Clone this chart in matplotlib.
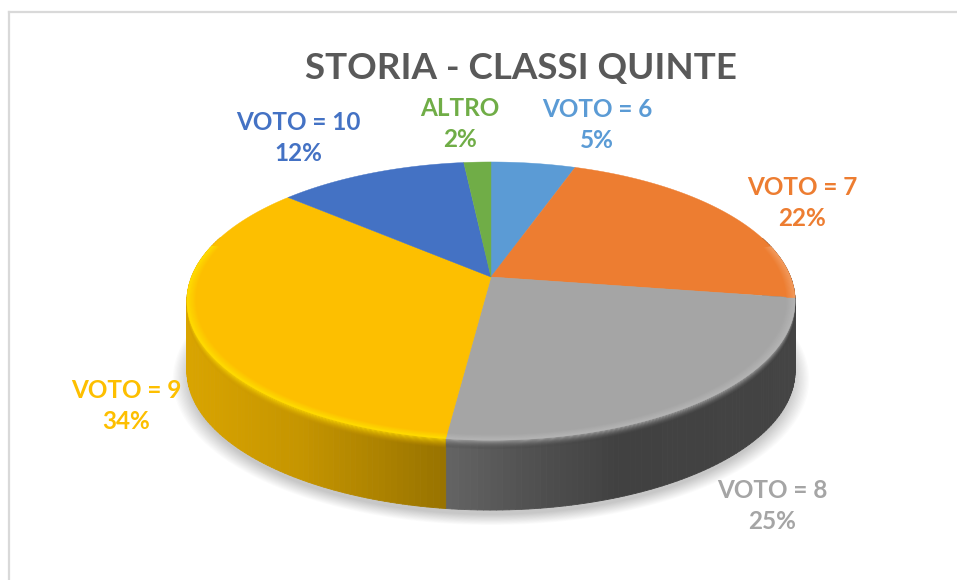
import numpy as np
import matplotlib
matplotlib.use("Agg")
import matplotlib.pyplot as plt
from matplotlib.collections import PolyCollection

# data
labels = ["VOTO = 6", "VOTO = 7", "VOTO = 8", "VOTO = 9", "VOTO = 10", "ALTRO"]
values = [5.3, 22.1, 24.6, 34.4, 11.9, 1.7]
colors = ["#5b9bd5", "#ed7d31", "#a5a5a5", "#fdbf00", "#4472c4", "#70ad47"]
title = "STORIA - CLASSI QUINTE"

# label centres in pixels
label_pos = [(597, 125), (802, 203), (772, 506), (126, 406), (298, 138), (460, 124)]

# wall colours as (pixel x, colour factor) per slice
wall_x = [187, 300, 445, 530, 620, 796]
wall_f = [0.86, 0.78, 0.60, 0.50, 0.42, 0.42]
wall_f_gray = [0.86, 0.78, 0.62, 0.50, 0.40, 0.42]

plt.rcParams["font.family"] = ["Lato", "DejaVu Sans"]

fig = plt.figure(figsize=(9.57, 5.80), dpi=100)
ax = fig.add_axes([0, 0, 1, 1])
ax.set_xlim(0, 957)
ax.set_ylim(580, 0)
ax.axis("off")

CX, CY = 491, 277
A, B, K = 299.5, 134.9, 0.1727
DEPTH = 70


def project(ang, r=1.0, d=0.0):
    # ang is clockwise from north, in radians. circle -> perspective ellipse
    u = r * np.sin(ang)
    v = r * np.cos(ang)
    w = 1 + K * v
    return CX + A * u / w, CY - B * v / w + d


def mix(c1, c2, t):
    c1 = np.array(matplotlib.colors.to_rgb(c1))
    c2 = np.array(matplotlib.colors.to_rgb(c2))
    return tuple(c1 * (1 - t) + c2 * t)


fracs = np.array(values) / sum(values)
edges = np.concatenate([[0], np.cumsum(fracs)]) * 2 * np.pi

# soft shadow below the pie
circle = np.linspace(0, 2 * np.pi, 240)
for i in range(14):
    sx, sy = project(circle, 1.045 - i * 0.004, DEPTH + 6)
    ax.fill(sx, sy, color="#000000", alpha=0.016, lw=0, zorder=1)

# side wall, drawn as small quads per slice
quads, quad_cols = [], []
for k in range(len(values)):
    n = max(int(np.degrees(edges[k + 1] - edges[k])), 2)
    angs = np.linspace(edges[k], edges[k + 1], n + 1)
    for a0, a1 in zip(angs[:-1], angs[1:]):
        if np.cos((a0 + a1) / 2) > 0.3:
            continue
        x0, y0 = project(a0)
        x1, y1 = project(a1)
        _, y0b = project(a0, d=DEPTH)
        _, y1b = project(a1, d=DEPTH)
        f = np.interp((x0 + x1) / 2, wall_x, wall_f_gray if k == 2 else wall_f)
        if k == 2:
            col = mix("#000000", "#a5a5a5", f * 0.98)
        else:
            col = mix("#000000", colors[k], f)
        quads.append([(x0, y0), (x1, y1), (x1, y1b), (x0, y0b)])
        quad_cols.append(col)
ax.add_collection(PolyCollection(quads, facecolors=quad_cols, edgecolors=quad_cols, linewidths=0.6, zorder=2))

# top face
for k in range(len(values)):
    angs = np.linspace(edges[k], edges[k + 1], 120)
    fx, fy = project(angs)
    ax.fill(np.r_[CX, fx], np.r_[CY, fy], color=colors[k], lw=0.3, zorder=3)

# bevel on the front rim: ring on the face, then a fade into the wall
rim_light = {2: "#b4b4b4", 3: "#ffdc00", 1: "#f29a5c"}
steps = 10
for k in rim_light:
    n = max(int(np.degrees(edges[k + 1] - edges[k])), 2)
    angs = np.linspace(edges[k], edges[k + 1], n + 1)
    angs = angs[np.cos(angs) < 0.25]
    for s in range(steps):
        t0, t1 = s / steps, (s + 1) / steps
        r0, r1 = 0.972 + 0.028 * t0, 0.972 + 0.028 * t1
        col = mix(colors[k], rim_light[k], t1)
        xa, ya = project(angs, r0)
        xb, yb = project(angs, r1)
        ax.fill(np.r_[xa, xb[::-1]], np.r_[ya, yb[::-1]], color=col, lw=0.3, zorder=4)
    xs, ys = project(angs)
    for s in range(steps):
        t0, t1 = s / steps, (s + 1) / steps
        fw = np.interp(xs.mean(), wall_x, wall_f_gray if k == 2 else wall_f)
        col = mix(rim_light[k], mix("#000000", colors[k], fw), t1)
        ax.fill(np.r_[xs, xs[::-1]], np.r_[ys + 9 * t0, (ys + 9 * t1)[::-1]], color=col, alpha=1 - t0, lw=0, zorder=2.5)

# labels
for lab, val, col, (lx, ly) in zip(labels, values, colors, label_pos):
    ax.text(lx, ly, f"{lab}\n{val:.0f}%", color=col, ha="center", va="center", fontsize=17.5,
            fontweight="bold", linespacing=1.42, zorder=6)

ax.text(521, 69, title, color="#595959", ha="center", va="center", fontsize=26.5, fontweight="bold", zorder=6)

# chart frame, only left and top are in the crop
ax.plot([9, 9], [580, 12], color="#d9d9d9", lw=1.6, zorder=0, solid_capstyle="projecting")
ax.plot([9, 957], [12, 12], color="#d9d9d9", lw=1.6, zorder=0)

fig.savefig("out.png", dpi=100)
